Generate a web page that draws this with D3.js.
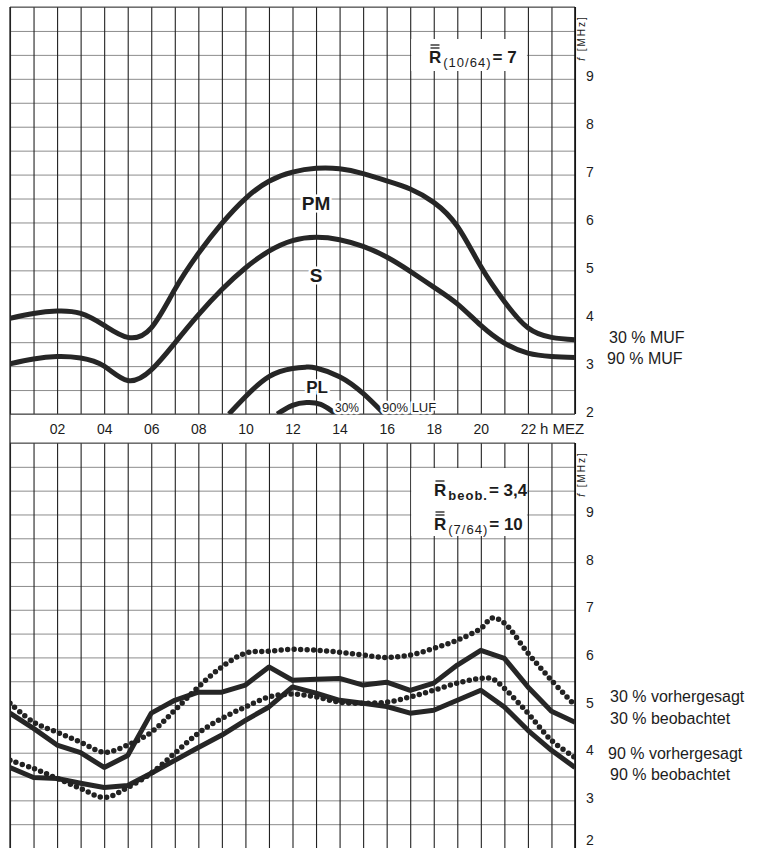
<!DOCTYPE html>
<html>
<head>
<meta charset="utf-8">
<script src="https://cdn.jsdelivr.net/npm/d3@7"></script>
<style>
body { margin: 0; background: #fff; }
text { font-family: "Liberation Sans", Arial, sans-serif; fill: #1c1c1c; }
.bold { font-weight: bold; }
</style>
</head>
<body>
<div id="chart"></div>
<script>
// hours of the day (MEZ), one reading per hour
var hours = [0,1,2,3,4,5,6,7,8,9,10,11,12,13,14,15,16,17,18,19,20,21,22,23,24];
var hourTicks = [2,4,6,8,10,12,14,16,18,20,22];
var hourLabels = ["02","04","06","08","10","12","14","16","18","20","22"];
var freqTicks = [2,3,4,5,6,7,8,9];

// upper chart: prediction, MHz
var muf30 = [4.0,4.1,4.15,4.1,3.85,3.6,3.8,4.6,5.35,5.98,6.5,6.86,7.05,7.13,7.12,7.02,6.87,6.7,6.42,5.92,5.08,4.35,3.8,3.6,3.55];
var muf90 = [3.05,3.15,3.2,3.17,3.0,2.7,2.92,3.48,4.07,4.6,5.05,5.4,5.62,5.69,5.64,5.5,5.28,4.98,4.65,4.3,3.85,3.48,3.27,3.2,3.18];
var lufOuterHours = [9.3,10,11,12,12.6,13,14,15,15.9];
var lufOuter = [2.0,2.36,2.78,2.95,2.98,2.96,2.78,2.43,2.0];
var lufInnerHours = [11.35,12,12.6,13.2,13.85];
var lufInner = [2.0,2.18,2.24,2.2,2.0];

// lower chart: predicted (dotted) and observed (solid), MHz
var predHours = [0,1,2,3,4,5,6,7,8,9,10,11,12,13,14,15,16,17,18,19,20,20.5,21,22,23,24];
var pred30 = [5.04,4.64,4.43,4.22,4.01,4.16,4.43,4.89,5.38,5.8,6.09,6.13,6.17,6.15,6.11,6.05,6.0,6.05,6.19,6.36,6.61,6.83,6.72,6.09,5.52,4.99];
var pred90 = [3.84,3.67,3.46,3.25,3.06,3.27,3.57,3.99,4.41,4.72,4.96,5.17,5.23,5.17,5.06,5.04,5.06,5.17,5.31,5.46,5.56,5.55,5.35,4.83,4.26,3.9];
var obs30 = [4.83,4.51,4.16,4.0,3.69,3.94,4.83,5.1,5.27,5.27,5.42,5.8,5.52,5.54,5.56,5.42,5.48,5.31,5.46,5.84,6.15,5.98,5.38,4.87,4.64];
var obs90 = [3.69,3.48,3.46,3.36,3.27,3.31,3.57,3.84,4.11,4.37,4.68,4.96,5.38,5.25,5.1,5.04,4.97,4.83,4.89,5.1,5.31,4.96,4.47,4.05,3.69];

var svg = d3.select("#chart").append("svg")
  .attr("width", 769)
  .attr("height", 848);
svg.append("rect").attr("width", 769).attr("height", 848).attr("fill", "#fff");

var x = d3.scaleLinear().domain([0, 24]).range([10, 575]);
var yTop = d3.scaleLinear().domain([2, 10.5]).range([414, 7]);
var yBot = d3.scaleLinear().domain([2, 10.5]).range([848, 443]);

var defs = svg.append("defs");
[["clipTop", yTop], ["clipBot", yBot]].forEach(function(c) {
  defs.append("clipPath").attr("id", c[0]).append("rect")
    .attr("x", x(0)).attr("y", c[1](10.5))
    .attr("width", x(24) - x(0)).attr("height", c[1](2) - c[1](10.5));
});

function grid(y, box) {
  var g = svg.append("g");
  // horizontal lines every half MHz
  g.append("g")
    .attr("transform", "translate(" + x(0) + ",0)")
    .call(d3.axisRight(y).tickValues(d3.range(2, 10.51, 0.5)).tickSize(x(24) - x(0)).tickFormat(""))
    .call(function(a) { a.select(".domain").remove(); })
    .selectAll("line").attr("stroke", "#8c8c8c").attr("stroke-width", 1);
  // vertical lines every hour
  g.append("g")
    .attr("transform", "translate(0," + y(2) + ")")
    .call(d3.axisBottom(x).tickValues(hours).tickSize(y(10.5) - y(2)).tickFormat(""))
    .call(function(a) { a.select(".domain").remove(); })
    .selectAll("line").attr("stroke", "#222").attr("stroke-width", 1.1);
  // white field behind the sunspot number
  g.append("rect")
    .attr("x", x(17) + 1).attr("y", box[0])
    .attr("width", x(22) - x(17) - 2).attr("height", box[1] - box[0])
    .attr("fill", "#fff");
  // frame
  g.append("line").attr("x1", x(0)).attr("x2", x(24)).attr("y1", y(10.5)).attr("y2", y(10.5))
    .attr("stroke", "#555").attr("stroke-width", 1.2);
  g.append("line").attr("x1", x(24)).attr("x2", x(24)).attr("y1", y(10.5)).attr("y2", y(2))
    .attr("stroke", "#111").attr("stroke-width", 1.6);
  // frequency labels
  g.append("g")
    .attr("transform", "translate(" + x(24) + ",0)")
    .call(d3.axisRight(y).tickValues(freqTicks).tickSize(0).tickPadding(11))
    .call(function(a) { a.select(".domain").remove(); })
    .selectAll("text")
    .attr("dy", function(d) { return y(d) > 835 ? "-0.25em" : "0.15em"; })
    .style("font-family", "'Liberation Sans', sans-serif")
    .style("font-size", "14px")
    .attr("fill", "#222");
  g.append("text")
    .attr("transform", "translate(585," + (y(10.5) + 31) + ")rotate(-90)")
    .attr("text-anchor", "middle")
    .style("font-size", "10px")
    .style("letter-spacing", "2px")
    .html("<tspan font-style='italic'>f</tspan> [MHz]");
  return g;
}

grid(yTop, [39, 71]);
grid(yBot, [468, 536]);

// bottom line of the upper chart and left frame
svg.append("line").attr("x1", x(0)).attr("x2", x(24)).attr("y1", yTop(2)).attr("y2", yTop(2))
  .attr("stroke", "#444").attr("stroke-width", 1.2);
svg.append("line").attr("x1", x(0)).attr("x2", x(0)).attr("y1", yTop(10.5)).attr("y2", 848)
  .attr("stroke", "#222").attr("stroke-width", 1.3);

// hour labels between the two charts
svg.append("g")
  .attr("transform", "translate(0," + yTop(2) + ")")
  .call(d3.axisBottom(x).tickValues(hourTicks).tickSize(0).tickPadding(10)
    .tickFormat(function(d, i) { return hourLabels[i]; }))
  .call(function(a) { a.select(".domain").remove(); })
  .selectAll("text")
  .style("font-family", "'Liberation Sans', sans-serif")
  .style("font-size", "14px")
  .attr("fill", "#222");
svg.append("text").attr("x", 540).attr("y", 434)
  .style("font-size", "15px").text("h MEZ");

var smooth = function(y) {
  return d3.line()
    .x(function(d) { return x(d[0]); })
    .y(function(d) { return y(d[1]); })
    .curve(d3.curveNatural);
};
var dotted = function(y) {
  return d3.line()
    .x(function(d) { return x(d[0]); })
    .y(function(d) { return y(d[1]); })
    .curve(d3.curveCatmullRom.alpha(0.5));
};
var straight = function(y) {
  return d3.line()
    .x(function(d) { return x(d[0]); })
    .y(function(d) { return y(d[1]); });
};

// upper chart curves
var topG = svg.append("g").attr("clip-path", "url(#clipTop)");
[muf30, muf90].forEach(function(s) {
  topG.append("path")
    .datum(d3.zip(hours, s))
    .attr("d", smooth(yTop))
    .attr("fill", "none").attr("stroke", "#262626").attr("stroke-width", 5);
});
[[lufOuterHours, lufOuter], [lufInnerHours, lufInner]].forEach(function(s) {
  topG.append("path")
    .datum(d3.zip(s[0], s[1]))
    .attr("d", smooth(yTop))
    .attr("fill", "none").attr("stroke", "#262626").attr("stroke-width", 5);
});

function halo(sel) {
  return sel.attr("stroke", "#fff").attr("stroke-width", 5)
    .attr("stroke-linejoin", "round").style("paint-order", "stroke");
}
halo(svg.append("text").attr("class", "bold").attr("x", x(13)).attr("y", 210)
  .attr("text-anchor", "middle").style("font-size", "19px").text("PM"));
halo(svg.append("text").attr("class", "bold").attr("x", x(13)).attr("y", 282)
  .attr("text-anchor", "middle").style("font-size", "19px").text("S"));
halo(svg.append("text").attr("class", "bold").attr("x", 317).attr("y", 393)
  .attr("text-anchor", "middle").style("font-size", "17px").text("PL"));
halo(svg.append("text").attr("x", 335).attr("y", 412).style("font-size", "12px").text("30%"));
halo(svg.append("text").attr("x", 382).attr("y", 412).style("font-size", "13px").text("90% LUF"));

// lower chart curves
var botG = svg.append("g").attr("clip-path", "url(#clipBot)");
[obs30, obs90].forEach(function(s) {
  botG.append("path")
    .datum(d3.zip(hours, s))
    .attr("d", straight(yBot))
    .attr("fill", "none").attr("stroke", "#262626").attr("stroke-width", 5)
    .attr("stroke-linejoin", "round");
});
[pred30, pred90].forEach(function(s) {
  botG.append("path")
    .datum(d3.zip(predHours, s))
    .attr("d", dotted(yBot))
    .attr("fill", "none").attr("stroke", "#222").attr("stroke-width", 5.5)
    .attr("stroke-linecap", "round").attr("stroke-dasharray", "0,6.5");
});

// sunspot numbers
function rLabel(xr, yb, bars, sub, rest, subBold) {
  var t = svg.append("text").attr("class", "bold").attr("x", xr).attr("y", yb).style("font-size", "17px");
  t.append("tspan").text("R");
  t.append("tspan").attr("dy", 4).attr("dx", 2)
    .style("font-size", "13px").style("letter-spacing", "1px")
    .style("font-weight", subBold ? "bold" : "normal").text(sub);
  t.append("tspan").attr("dy", -4).attr("dx", 1).text(rest);
  for (var i = 0; i < bars; i++) {
    svg.append("line").attr("x1", xr + 1.5).attr("x2", xr + 10.5)
      .attr("y1", yb - 15 - i * 3).attr("y2", yb - 15 - i * 3)
      .attr("stroke", "#1c1c1c").attr("stroke-width", 1.3);
  }
}
rLabel(429, 63, 2, "(10/64)", "= 7", false);
rLabel(434, 496, 1, "beob.", "= 3,4", true);
rLabel(434, 530, 2, "(7/64)", "= 10", false);

// labels at the right
var legend = [
  [609, 343, "30 % MUF"],
  [607, 364, "90 % MUF"],
  [610, 702, "30 % vorhergesagt"],
  [610, 724, "30 % beobachtet"],
  [608, 759, "90 % vorhergesagt"],
  [610, 780, "90 % beobachtet"]
];
svg.selectAll(".leg").data(legend).enter().append("text")
  .attr("class", "leg")
  .attr("x", function(d) { return d[0]; })
  .attr("y", function(d) { return d[1]; })
  .style("font-size", "16px")
  .attr("fill", "#2a2a2a")
  .text(function(d) { return d[2]; });
</script>
</body>
</html>
